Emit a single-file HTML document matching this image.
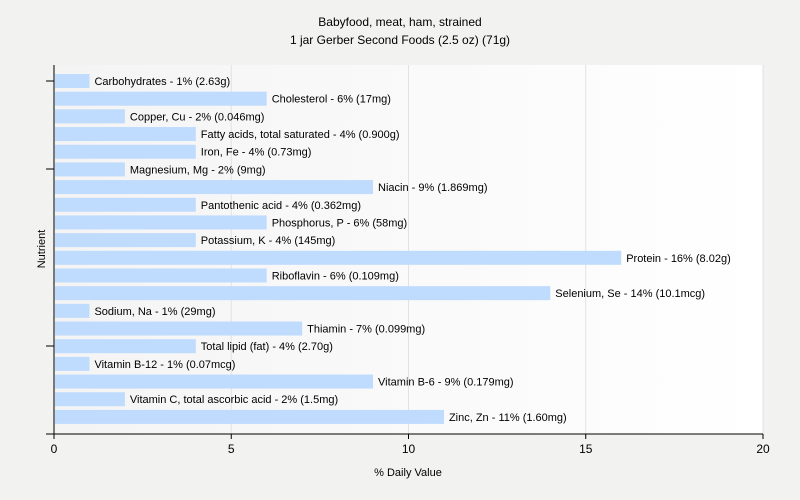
<!DOCTYPE html>
<html><head><meta charset="utf-8"><style>
body{margin:0;background:#f2f2f0;font-family:"Liberation Sans",sans-serif;}
svg{display:block}
</style></head><body>
<svg id="chart" width="800" height="500" xmlns="http://www.w3.org/2000/svg">
<defs><linearGradient id="bg" x1="0" x2="1" y1="0" y2="0"><stop offset="0" stop-color="#f4f4f4"/><stop offset="1" stop-color="#ffffff"/></linearGradient></defs>
<rect width="800" height="500" fill="#f2f2f0"/>
<rect x="54" y="65" width="709" height="369" fill="url(#bg)"/>
<text x="400" y="26" text-anchor="middle" font-size="12" fill="#000">Babyfood, meat, ham, strained</text>
<text x="400" y="44" text-anchor="middle" font-size="12" fill="#000">1 jar Gerber Second Foods (2.5 oz) (71g)</text>
<g id="grid"></g><g id="bars"></g><g id="axes"></g>
<text x="408" y="476" text-anchor="middle" font-size="11">% Daily Value</text>
<text transform="translate(45,249) rotate(-90)" text-anchor="middle" font-size="11">Nutrient</text>
</svg>
<script>
const labels=["Carbohydrates - 1% (2.63g)","Cholesterol - 6% (17mg)","Copper, Cu - 2% (0.046mg)","Fatty acids, total saturated - 4% (0.900g)","Iron, Fe - 4% (0.73mg)","Magnesium, Mg - 2% (9mg)","Niacin - 9% (1.869mg)","Pantothenic acid - 4% (0.362mg)","Phosphorus, P - 6% (58mg)","Potassium, K - 4% (145mg)","Protein - 16% (8.02g)","Riboflavin - 6% (0.109mg)","Selenium, Se - 14% (10.1mcg)","Sodium, Na - 1% (29mg)","Thiamin - 7% (0.099mg)","Total lipid (fat) - 4% (2.70g)","Vitamin B-12 - 1% (0.07mcg)","Vitamin B-6 - 9% (0.179mg)","Vitamin C, total ascorbic acid - 2% (1.5mg)","Zinc, Zn - 11% (1.60mg)"];
const values=[1,6,2,4,4,2,9,4,6,4,16,6,14,1,7,4,1,9,2,11];
const xTicks=[0,5,10,15,20];
const NS="http://www.w3.org/2000/svg";
const x=v=>54+v*(709/20);
const y=i=>74+i*17.68;
function mk(t,a,p){const e=document.createElementNS(NS,t);for(const k in a)e.setAttribute(k,a[k]);p.appendChild(e);return e;}
const grid=document.getElementById('grid'),bars=document.getElementById('bars'),axes=document.getElementById('axes');
xTicks.forEach(t=>{
  if(t>0){const g=mk('line',{x1:x(t),x2:x(t),y1:65,y2:434,stroke:'#e2e2e2'},grid);
  
  }
  const tk=mk('line',{x1:x(t),x2:x(t),y1:434,y2:439,stroke:'#000'},axes);
  
  
  const tl=mk('text',{x:x(t),y:453,'text-anchor':'middle','font-size':12},axes);
  tl.textContent=t;
  
  
});
values.forEach((v,i)=>{
  const r=mk('rect',{x:55,y:y(i),width:x(v)-55,height:14,fill:'#bfdbfd'},bars);
  
  
  const t=mk('text',{x:x(v)+5,y:y(i)+11,'font-size':11,fill:'#000'},bars);
  t.textContent=labels[i];
  
  
});
const ya=mk('line',{x1:54,x2:54,y1:65,y2:434,stroke:'#000'},axes);


const xa=mk('line',{x1:46,x2:763,y1:434,y2:434,stroke:'#000'},axes);


[81,169,346].forEach((yy,k)=>{
  const l=mk('line',{x1:46,x2:54,y1:yy,y2:yy,stroke:'#000'},axes);
  
  
});
</script>
</body></html>
